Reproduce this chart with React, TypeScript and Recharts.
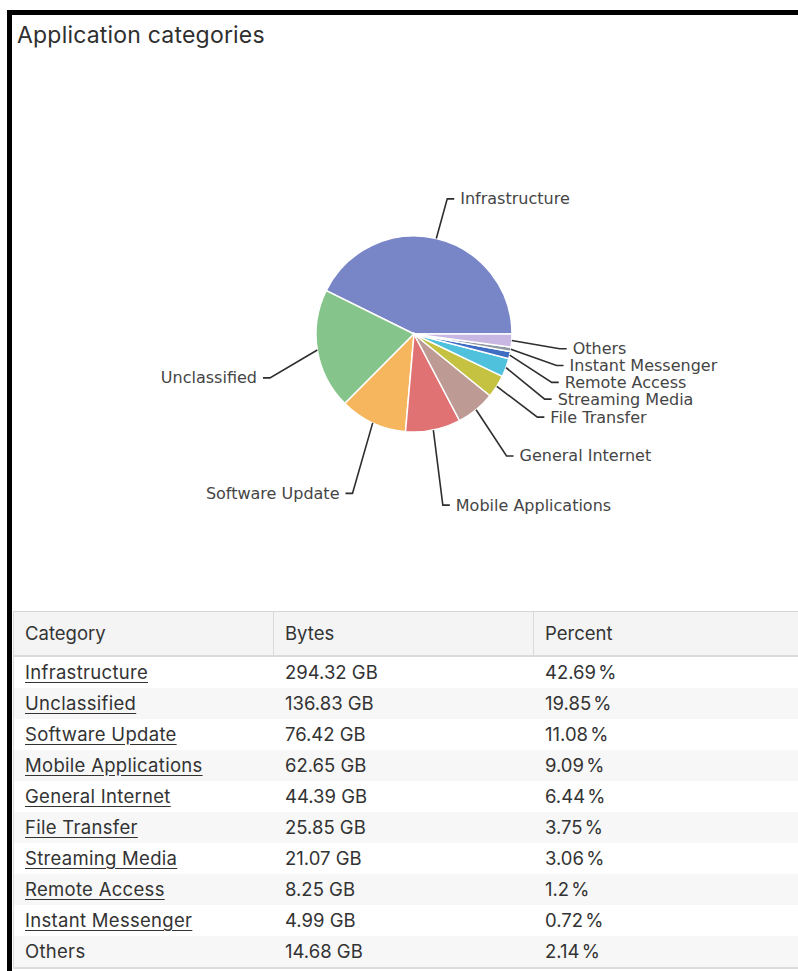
import React from 'react';
import { PieChart, Pie, Cell } from 'recharts';

// ---------- data ----------
const categories = [
  'Infrastructure',
  'Unclassified',
  'Software Update',
  'Mobile Applications',
  'General Internet',
  'File Transfer',
  'Streaming Media',
  'Remote Access',
  'Instant Messenger',
  'Others',
];
const bytesGB = [294.32, 136.83, 76.42, 62.65, 44.39, 25.85, 21.07, 8.25, 4.99, 14.68];
const bytesText = ['294.32 GB', '136.83 GB', '76.42 GB', '62.65 GB', '44.39 GB', '25.85 GB', '21.07 GB', '8.25 GB', '4.99 GB', '14.68 GB'];
const percentText = ['42.69 %', '19.85 %', '11.08 %', '9.09 %', '6.44 %', '3.75 %', '3.06 %', '1.2 %', '0.72 %', '2.14 %'];
const tableColumns = ['Category', 'Bytes', 'Percent'];
const unlinkedCategories = ['Others'];

// ---------- styles ----------
const sliceColors = ['#7886c8', '#85c48a', '#f6b65e', '#e07273', '#bd9b94', '#c4c240', '#50c1dc', '#3f6dc3', '#8f99a3', '#c8b6e3'];
const CX = 409;
const CY = 329;
const OUTER_R = 98;
const ELBOW_R = 146;
const LABEL_GAP = 16.8;
const LABEL_BASE_DY = 5;
const LABEL_SHIFT: Record<string, number> = {
  Infrastructure: 2,
  Unclassified: 15,
  'Software Update': 22,
  'Mobile Applications': 23,
  'General Internet': 4,
};
const RAD = Math.PI / 180;

const pieData = categories.map((name, i) => ({ name, value: bytesGB[i] }));

type LabelPos = { ex: number; ey: number; right: boolean };

function computeLabelLayout(): LabelPos[] {
  const total = bytesGB.reduce((a, b) => a + b, 0);
  let acc = 0;
  const items = bytesGB.map((v, i) => {
    const start = (acc / total) * 360;
    acc += v;
    const end = (acc / total) * 360;
    const mid = ((start + end) / 2) * RAD;
    return {
      i,
      ex: ELBOW_R * Math.cos(mid),
      ey: -ELBOW_R * Math.sin(mid) + LABEL_BASE_DY + (LABEL_SHIFT[categories[i]] ?? 0),
      right: Math.cos(mid) >= 0,
      moved: false,
    };
  });
  for (const side of [true, false]) {
    const group = items.filter((it) => it.right === side).sort((a, b) => a.ey - b.ey);
    for (let k = 1; k < group.length; k++) {
      if (group[k].ey < group[k - 1].ey + LABEL_GAP) {
        group[k].ey = group[k - 1].ey + LABEL_GAP;
        group[k].moved = true;
      }
    }
  }
  items.forEach((it) => {
    if (it.moved && Math.abs(it.ey) < ELBOW_R) {
      it.ex = (it.right ? 1 : -1) * Math.sqrt(ELBOW_R * ELBOW_R - it.ey * it.ey);
    }
  });
  return items.map((it) => ({ ex: it.ex, ey: it.ey, right: it.right }));
}

const labelLayout = computeLabelLayout();

const renderLabel = (props: any) => {
  const { cx, cy, index, midAngle, outerRadius } = props;
  const lay = labelLayout[index];
  const sx = cx + outerRadius * Math.cos(-midAngle * RAD);
  const sy = cy + outerRadius * Math.sin(-midAngle * RAD);
  const ex = cx + lay.ex;
  const ey = cy + lay.ey;
  const dir = lay.right ? 1 : -1;
  const hx = ex + dir * 7;
  return (
    <g key={`lbl-${index}`}>
      <polyline
        points={`${sx},${sy} ${ex},${ey} ${hx},${ey}`}
        fill="none"
        stroke="#2e2e2e"
        strokeWidth={1.6}
      />
      <text
        x={hx + dir * 6}
        y={ey}
        textAnchor={lay.right ? 'start' : 'end'}
        dominantBaseline="central"
        fontFamily="'DejaVu Sans', Verdana, sans-serif"
        fontSize={16}
        fill="#454545"
      >
        {categories[index]}
      </text>
    </g>
  );
};

const tableFont = "Inter, 'Noto Sans', sans-serif";

export default function App() {
  return (
    <div
      style={{
        position: 'absolute',
        left: 0,
        top: 0,
        width: 798,
        height: 971,
        overflow: 'hidden',
        background: '#ffffff',
      }}
    >
      {/* frame */}
      <div
        style={{
          position: 'absolute',
          left: 7,
          top: 10,
          width: 820,
          height: 1000,
          borderTop: '5px solid #000',
          borderLeft: '5px solid #000',
          boxSizing: 'border-box',
        }}
      />
      <div style={{ position: 'absolute', left: 0, top: 0 }}>
        <PieChart width={798} height={600}>
          <Pie
            data={pieData}
            dataKey="value"
            nameKey="name"
            cx={CX}
            cy={CY}
            outerRadius={OUTER_R}
            startAngle={0}
            endAngle={360}
            stroke="#ffffff"
            strokeWidth={1.5}
            label={renderLabel}
            labelLine={false}
            isAnimationActive={false}
          >
            {pieData.map((d, i) => (
              <Cell key={d.name} fill={sliceColors[i]} />
            ))}
          </Pie>
        </PieChart>
      </div>
      <div
        style={{
          position: 'absolute',
          left: 17,
          top: 22,
          height: 26,
          lineHeight: '26px',
          fontFamily: "Inter, Roboto, sans-serif",
          fontSize: 23,
          letterSpacing: 0.2,
          color: '#2f2f2f',
          whiteSpace: 'nowrap',
        }}
      >
        Application categories
      </div>
      {/* table */}
      <div
        style={{
          position: 'absolute',
          left: 13,
          top: 611,
          width: 800,
          borderTop: '1px solid #d6d6d6',
          borderLeft: '1px solid #dcdcdc',
          borderBottom: '2px solid #dcdcdc',
          fontFamily: tableFont,
          color: '#333',
        }}
      >
        <div
          style={{
            display: 'flex',
            height: 43,
            background: '#f4f4f4',
            borderBottom: '2px solid #dadada',
          }}
        >
          {tableColumns.map((c, ci) => (
            <div
              key={c}
              style={{
                width: ci < 2 ? 260 : 280,
                boxSizing: 'border-box',
                paddingLeft: 11,
                lineHeight: '43px',
                fontSize: 18.5,
                borderRight: ci < 2 ? '1px solid #dadada' : 'none',
                whiteSpace: 'nowrap',
              }}
            >
              {c}
            </div>
          ))}
        </div>
        {categories.map((cat, i) => (
          <div
            key={cat}
            style={{
              display: 'flex',
              height: 31,
              background: i % 2 === 1 ? '#f7f7f7' : '#ffffff',
              fontSize: 18.5,
              lineHeight: '31px',
            }}
          >
            <div style={{ width: 260, paddingLeft: 11, boxSizing: 'border-box', whiteSpace: 'nowrap' }}>
              <span
                style={{
                  textDecoration: unlinkedCategories.includes(cat) ? 'none' : 'underline',
                  textUnderlineOffset: 3,
                  letterSpacing: 0.3,
                }}
              >
                {cat}
              </span>
            </div>
            <div style={{ width: 260, paddingLeft: 11, boxSizing: 'border-box', whiteSpace: 'nowrap' }}>
              {bytesText[i]}
            </div>
            <div
              style={{
                width: 280,
                paddingLeft: 11,
                boxSizing: 'border-box',
                whiteSpace: 'nowrap',
                wordSpacing: -3,
              }}
            >
              {percentText[i]}
            </div>
          </div>
        ))}
      </div>
    </div>
  );
}
